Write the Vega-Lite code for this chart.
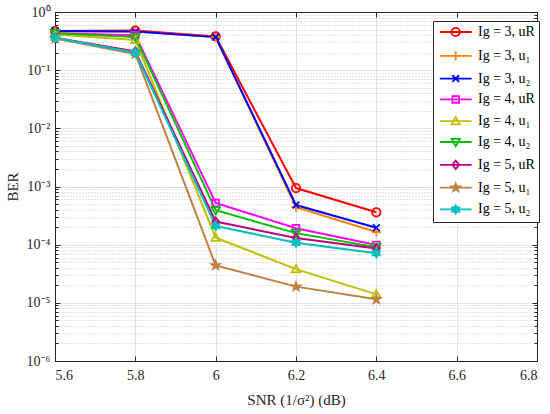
{
  "$schema": "https://vega.github.io/schema/vega-lite/v6.json",
  "width": 482,
  "height": 349,
  "autosize": {"type": "none"},
  "padding": {"left": 55, "top": 12, "right": 13, "bottom": 53},
  "background": "white",
  "params": [
    {"name": "legShapes", "expr": "['M3.8,0A1,1,0,1,1,1.8,0A1,1,0,1,1,3.8,0', 'M1.7,0H3.9M2.8,-1.1V1.1', 'M2,-0.8L3.6,0.8M2,0.8L3.6,-0.8', 'M2,-0.8H3.6V0.8H2Z', 'M2.8,-1L3.8,0.75H1.8Z', 'M2.8,1L3.8,-0.75H1.8Z', 'M2.8,-1L3.6,0L2.8,1L2,0Z', 'M2.8,-1L3.025,-0.309L3.751,-0.309L3.163,0.118L3.388,0.809L2.8,0.382L2.212,0.809L2.437,0.118L1.849,-0.309L2.575,-0.309Z', 'M2.8,-1L3.089,-0.5L3.666,-0.5L3.377,0L3.666,0.5L3.089,0.5L2.8,1L2.511,0.5L1.934,0.5L2.223,0L1.934,-0.5L2.511,-0.5Z']"},
    {"name": "legFill", "expr": "['transparent','transparent','transparent','transparent','transparent','transparent','transparent','#BF8040','#00BFBF']"}
  ],
  "data": {
    "values": [
      {"series": "Ig = 3, uR", "snr": 5.6, "ber": 0.47},
      {"series": "Ig = 3, uR", "snr": 5.8, "ber": 0.48},
      {"series": "Ig = 3, uR", "snr": 6.0, "ber": 0.38},
      {"series": "Ig = 3, uR", "snr": 6.2, "ber": 0.00094},
      {"series": "Ig = 3, uR", "snr": 6.4, "ber": 0.00036},
      {"series": "Ig = 3, u₁", "snr": 5.6, "ber": 0.46},
      {"series": "Ig = 3, u₁", "snr": 5.8, "ber": 0.46},
      {"series": "Ig = 3, u₁", "snr": 6.0, "ber": 0.37},
      {"series": "Ig = 3, u₁", "snr": 6.2, "ber": 0.00044},
      {"series": "Ig = 3, u₁", "snr": 6.4, "ber": 0.000165},
      {"series": "Ig = 3, u₂", "snr": 5.6, "ber": 0.47},
      {"series": "Ig = 3, u₂", "snr": 5.8, "ber": 0.46},
      {"series": "Ig = 3, u₂", "snr": 6.0, "ber": 0.37},
      {"series": "Ig = 3, u₂", "snr": 6.2, "ber": 0.00048},
      {"series": "Ig = 3, u₂", "snr": 6.4, "ber": 0.000195},
      {"series": "Ig = 4, uR", "snr": 5.6, "ber": 0.43},
      {"series": "Ig = 4, uR", "snr": 5.8, "ber": 0.40},
      {"series": "Ig = 4, uR", "snr": 6.0, "ber": 0.00052},
      {"series": "Ig = 4, uR", "snr": 6.2, "ber": 0.000192},
      {"series": "Ig = 4, uR", "snr": 6.4, "ber": 0.000099},
      {"series": "Ig = 4, u₁", "snr": 5.6, "ber": 0.41},
      {"series": "Ig = 4, u₁", "snr": 5.8, "ber": 0.33},
      {"series": "Ig = 4, u₁", "snr": 6.0, "ber": 0.000132},
      {"series": "Ig = 4, u₁", "snr": 6.2, "ber": 0.000038},
      {"series": "Ig = 4, u₁", "snr": 6.4, "ber": 0.000014},
      {"series": "Ig = 4, u₂", "snr": 5.6, "ber": 0.43},
      {"series": "Ig = 4, u₂", "snr": 5.8, "ber": 0.37},
      {"series": "Ig = 4, u₂", "snr": 6.0, "ber": 0.00039},
      {"series": "Ig = 4, u₂", "snr": 6.2, "ber": 0.000158},
      {"series": "Ig = 4, u₂", "snr": 6.4, "ber": 0.00009},
      {"series": "Ig = 5, uR", "snr": 5.6, "ber": 0.36},
      {"series": "Ig = 5, uR", "snr": 5.8, "ber": 0.21},
      {"series": "Ig = 5, uR", "snr": 6.0, "ber": 0.00025},
      {"series": "Ig = 5, uR", "snr": 6.2, "ber": 0.00013},
      {"series": "Ig = 5, uR", "snr": 6.4, "ber": 0.000086},
      {"series": "Ig = 5, u₁", "snr": 5.6, "ber": 0.35},
      {"series": "Ig = 5, u₁", "snr": 5.8, "ber": 0.19},
      {"series": "Ig = 5, u₁", "snr": 6.0, "ber": 0.000044},
      {"series": "Ig = 5, u₁", "snr": 6.2, "ber": 0.000019},
      {"series": "Ig = 5, u₁", "snr": 6.4, "ber": 0.0000115},
      {"series": "Ig = 5, u₂", "snr": 5.6, "ber": 0.36},
      {"series": "Ig = 5, u₂", "snr": 5.8, "ber": 0.20},
      {"series": "Ig = 5, u₂", "snr": 6.0, "ber": 0.00021},
      {"series": "Ig = 5, u₂", "snr": 6.2, "ber": 0.000108},
      {"series": "Ig = 5, u₂", "snr": 6.4, "ber": 0.000071}
    ]
  },
  "resolve": {
    "axis": {"x": "independent", "y": "independent"},
    "legend": {"color": "independent"}
  },
  "layer": [
    {
      "mark": {"type": "line", "strokeWidth": 2},
      "encoding": {
        "x": {
          "field": "snr",
          "type": "quantitative",
          "scale": {"domain": [5.6, 6.8]},
          "axis": {
            "orient": "bottom",
            "values": [5.6, 5.8, 6.0, 6.2, 6.4, 6.6, 6.8],
            "labelExpr": "toString(round(datum.value * 10) / 10)",
            "grid": true,
            "gridColor": "#e3e3e3",
            "tickSize": -5,
            "labelPadding": 12,
            "title": "SNR (1/σ²) (dB)",
            "titlePadding": 10
          }
        },
        "y": {
          "field": "ber",
          "type": "quantitative",
          "scale": {"type": "log", "domain": [0.000001, 1]},
          "axis": {
            "orient": "left",
            "values": [0.000001, 0.000002, 0.000003, 0.000004, 0.000005, 0.000006, 0.000007, 0.000008, 0.000009,
                       0.00001, 0.00002, 0.00003, 0.00004, 0.00005, 0.00006, 0.00007, 0.00008, 0.00009,
                       0.0001, 0.0002, 0.0003, 0.0004, 0.0005, 0.0006, 0.0007, 0.0008, 0.0009,
                       0.001, 0.002, 0.003, 0.004, 0.005, 0.006, 0.007, 0.008, 0.009,
                       0.01, 0.02, 0.03, 0.04, 0.05, 0.06, 0.07, 0.08, 0.09,
                       0.1, 0.2, 0.3, 0.4, 0.5, 0.6, 0.7, 0.8, 0.9, 1],
            "labelExpr": "abs(log(datum.value) / LN10 - round(log(datum.value) / LN10)) < 0.001 ? '10' + ['⁰', '⁻¹', '⁻²', '⁻³', '⁻⁴', '⁻⁵', '⁻⁶'][round(-log(datum.value) / LN10)] : ''",
            "grid": true,
            "gridColor": {"condition": {"test": "abs(log(datum.value) / LN10 - round(log(datum.value) / LN10)) < 0.001", "value": "#e3e3e3"}, "value": "#c8c8c8"},
            "gridDash": {"condition": {"test": "abs(log(datum.value) / LN10 - round(log(datum.value) / LN10)) < 0.001", "value": []}, "value": [1, 2]},
            "tickSize": {"condition": {"test": "abs(log(datum.value) / LN10 - round(log(datum.value) / LN10)) < 0.001", "value": -5}, "value": -3},
            "labelPadding": 10,
            "labelFontSize": 14,
            "title": "BER",
            "titlePadding": 6
          }
        },
        "color": {
          "field": "series",
          "type": "nominal",
          "scale": {
            "domain": ["Ig = 3, uR", "Ig = 3, u₁", "Ig = 3, u₂", "Ig = 4, uR", "Ig = 4, u₁", "Ig = 4, u₂", "Ig = 5, uR", "Ig = 5, u₁", "Ig = 5, u₂"],
            "range": ["#FF0000", "#FF8000", "#0000FF", "#FF00FF", "#BFBF00", "#00C000", "#BF0080", "#BF8040", "#00BFBF"]
          },
          "legend": {
            "orient": "none",
            "legendX": 378,
            "legendY": 9,
            "title": null,
            "fillColor": "white",
            "strokeColor": "#262626",
            "padding": 4,
            "labelFontSize": 14,
            "labelColor": "black",
            "labelLimit": 200,
            "rowPadding": 6.8,
            "symbolSize": 70,
            "symbolOffset": 0,
            "labelOffset": 27,
            "encode": {
              "symbols": {
                "update": {
                  "shape": {"signal": "'M-1,0H6.6' + legShapes[datum.index]"},
                  "fill": {"signal": "legFill[datum.index]"},
                  "strokeWidth": {"value": 1.8},
                  "opacity": {"value": 1}
                }
              }
            }
          }
        }
      }
    },
    {
      "mark": {"type": "point", "filled": false, "size": 70, "strokeWidth": 1.8, "opacity": 1},
      "encoding": {
        "x": {
          "field": "snr",
          "type": "quantitative",
          "axis": {"orient": "top", "values": [5.6, 5.8, 6.0, 6.2, 6.4, 6.6, 6.8], "labels": false, "grid": false, "tickSize": -5, "title": null}
        },
        "y": {
          "field": "ber",
          "type": "quantitative",
          "axis": {
            "orient": "right",
            "values": [0.000001, 0.000002, 0.000003, 0.000004, 0.000005, 0.000006, 0.000007, 0.000008, 0.000009,
                       0.00001, 0.00002, 0.00003, 0.00004, 0.00005, 0.00006, 0.00007, 0.00008, 0.00009,
                       0.0001, 0.0002, 0.0003, 0.0004, 0.0005, 0.0006, 0.0007, 0.0008, 0.0009,
                       0.001, 0.002, 0.003, 0.004, 0.005, 0.006, 0.007, 0.008, 0.009,
                       0.01, 0.02, 0.03, 0.04, 0.05, 0.06, 0.07, 0.08, 0.09,
                       0.1, 0.2, 0.3, 0.4, 0.5, 0.6, 0.7, 0.8, 0.9, 1],
            "labels": false,
            "grid": false,
            "tickSize": {"condition": {"test": "abs(log(datum.value) / LN10 - round(log(datum.value) / LN10)) < 0.001", "value": -5}, "value": -3},
            "title": null
          }
        },
        "color": {"field": "series", "type": "nominal", "legend": null},
        "shape": {
          "field": "series",
          "type": "nominal",
          "scale": {
            "domain": ["Ig = 3, uR", "Ig = 3, u₁", "Ig = 3, u₂", "Ig = 4, uR", "Ig = 4, u₁", "Ig = 4, u₂", "Ig = 5, uR", "Ig = 5, u₁", "Ig = 5, u₂"],
            "range": ["M1,0A1,1,0,1,1,-1,0A1,1,0,1,1,1,0", "M-1.1,0H1.1M0,-1.1V1.1", "M-0.8,-0.8L0.8,0.8M-0.8,0.8L0.8,-0.8", "M-0.8,-0.8H0.8V0.8H-0.8Z", "M0,-1L1,0.75H-1Z", "M0,1L1,-0.75H-1Z", "M0,-1L0.8,0L0,1L-0.8,0Z", "M0,-1L0.225,-0.309L0.951,-0.309L0.363,0.118L0.588,0.809L0,0.382L-0.588,0.809L-0.363,0.118L-0.951,-0.309L-0.225,-0.309Z", "M0,-1L0.289,-0.5L0.866,-0.5L0.577,0L0.866,0.5L0.289,0.5L0,1L-0.289,0.5L-0.866,0.5L-0.577,0L-0.866,-0.5L-0.289,-0.5Z"]
          },
          "legend": null
        },
        "fill": {
          "field": "series",
          "type": "nominal",
          "scale": {
            "domain": ["Ig = 3, uR", "Ig = 3, u₁", "Ig = 3, u₂", "Ig = 4, uR", "Ig = 4, u₁", "Ig = 4, u₂", "Ig = 5, uR", "Ig = 5, u₁", "Ig = 5, u₂"],
            "range": ["transparent", "transparent", "transparent", "transparent", "transparent", "transparent", "transparent", "#BF8040", "#00BFBF"]
          },
          "legend": null
        }
      }
    }
  ],
  "config": {
    "view": {"stroke": null},
    "font": "Liberation Serif",
    "axis": {
      "domainColor": "#262626",
      "tickColor": "#262626",
      "labelColor": "#262626",
      "titleColor": "#262626",
      "labelFont": "Liberation Serif",
      "titleFont": "Liberation Serif",
      "labelFontSize": 14,
      "titleFontSize": 15,
      "titleFontWeight": "normal"
    },
    "legend": {"labelFont": "Liberation Serif"}
  }
}
